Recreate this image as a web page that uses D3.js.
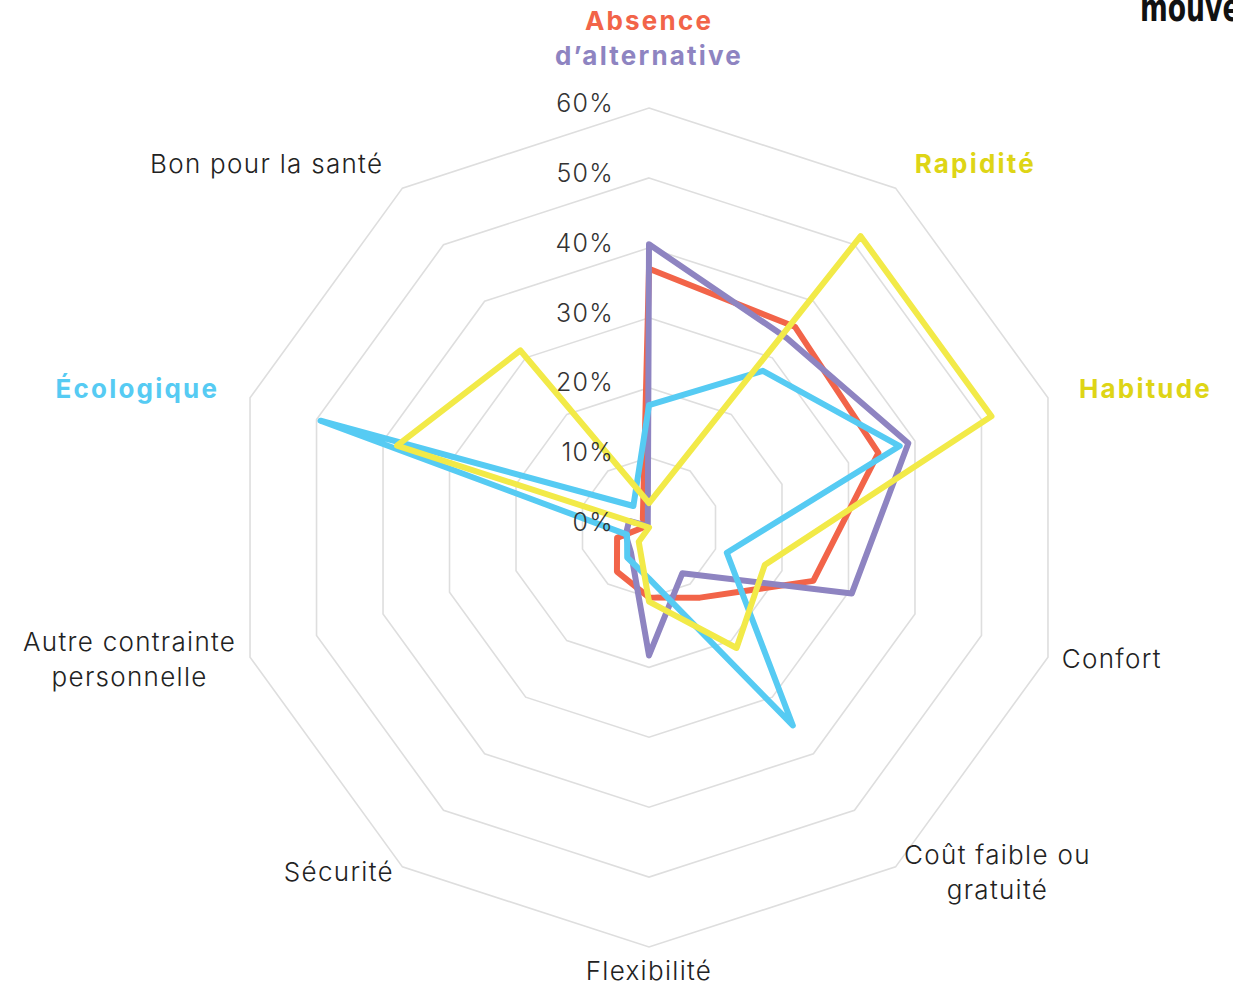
<!DOCTYPE html>
<html>
<head>
<meta charset="utf-8">
<script src="https://cdn.jsdelivr.net/npm/d3@7/dist/d3.min.js"></script>
<style>
  body { margin: 0; background: #fff; }
  svg { display: block; }
</style>
</head>
<body>
<script>
// radar: motifs de choix du mode de transport (%)

var axes = ["Absence d’alternative", "Rapidité", "Habitude", "Confort", "Coût faible ou gratuité",
            "Flexibilité", "Sécurité", "Autre contrainte personnelle", "Écologique", "Bon pour la santé"];

// lignes des libellés d'axes
var axisLines = [["Absence", "d’alternative"], ["Rapidité"], ["Habitude"], ["Confort"], ["Coût faible ou", "gratuité"],
                 ["Flexibilité"], ["Sécurité"], ["Autre contrainte", "personnelle"], ["Écologique"], ["Bon pour la santé"]];

var serieRouge  = [37, 35.5, 34.5, 24.7, 12.4, 10, 7.8, 4.8, 0.5, 1.5];
var serieViolet = [40.5, 33.5, 39, 30.5, 8.1, 18.3, 4.4, 3.5, 3, 0.3];
var serieBleu   = [17.5, 27.7, 37.7, 11.7, 35, 7.3, 5.3, 3.3, 49.4, 3.8];
var serieJaune  = [3.5, 51.5, 51.5, 17.4, 21.3, 10.6, 2.5, 0, 37.9, 31.3];

var ticks = [0, 10, 20, 30, 40, 50, 60];
var tickLabels = ["0%", "10%", "20%", "30%", "40%", "50%", "60%"];

var rouge = "#f26449", violet = "#8e84c1", bleu = "#56cbf3", jaune = "#f2ea48";
var jauneTexte = "#ded516";

var series = [
    { values: serieRouge, color: rouge },
    { values: serieViolet, color: violet },
    { values: serieBleu, color: bleu },
    { values: serieJaune, color: jaune }
];

var width = 1233, height = 987;
var cx = 649, cy = 527.5;

var svg = d3.select("body").append("svg")
    .attr("width", width)
    .attr("height", height);

var g = svg.append("g")
    .attr("transform", "translate(" + cx + "," + cy + ")");

var rScale = d3.scaleLinear()
    .domain([0, 60])
    .range([0, 419.5]);

var angle = d3.scaleLinear()
    .domain([0, axes.length])
    .range([0, 2 * Math.PI]);

// grille en décagones
var ring = d3.lineRadial()
    .angle(function (d, i) { return angle(i); })
    .radius(function (d) { return rScale(d); })
    .curve(d3.curveLinearClosed);

g.selectAll(".ring")
    .data(ticks.slice(1))
    .enter().append("path")
    .attr("class", "ring")
    .attr("d", function (t) { return ring(axes.map(function () { return t; })); })
    .attr("fill", "none")
    .attr("stroke", "#dedede")
    .attr("stroke-width", 1.6);

// courbes
var line = d3.lineRadial()
    .angle(function (d, i) { return angle(i); })
    .radius(function (d) { return rScale(d); })
    .curve(d3.curveLinearClosed);

g.selectAll(".serie")
    .data(series)
    .enter().append("path")
    .attr("class", "serie")
    .attr("d", function (s) { return line(s.values); })
    .attr("fill", "none")
    .attr("stroke", function (s) { return s.color; })
    .attr("stroke-width", 6)
    .attr("stroke-linejoin", "round")
    .attr("stroke-linecap", "round");

// graduations
g.selectAll(".tick")
    .data(ticks)
    .enter().append("text")
    .attr("class", "tick")
    .attr("x", -35)
    .attr("y", function (t) { return -rScale(t) - 5; })
    .attr("dy", "0.35em")
    .attr("text-anchor", "end")
    .attr("font-family", "Inter, sans-serif")
    .attr("font-weight", 300)
    .attr("font-size", "25px")
    .attr("letter-spacing", "1.3px")
    .attr("fill", "#333")
    .text(function (t, i) { return tickLabels[i]; });

// libellés des axes
var labelColors = [null, jauneTexte, jauneTexte, null, null, null, null, null, bleu, null];
var lineColors = { 0: [rouge, violet] };
var boldAxes = [0, 1, 2, 8];

axisLines.forEach(function (lines, i) {
    var a = angle(i);
    var sin = Math.sin(a), cos = Math.cos(a);
    var rx = cos >= 0 ? 452 : 434;
    var ry = cos >= 0 ? 450 : 426;
    var x = rx * sin;
    var y = -ry * cos;
    var bold = boldAxes.indexOf(i) >= 0;
    var lh = 35;

    var grp = g.append("g");
    var texts = lines.map(function (l, k) {
        return grp.append("text")
            .attr("font-family", "Inter, sans-serif")
            .attr("font-weight", bold ? 700 : 300)
            .attr("font-size", "26px")
            .attr("letter-spacing", bold ? "2.2px" : "1.3px")
            .attr("fill", lineColors[i] ? lineColors[i][k] : (labelColors[i] || "#222"))
            .attr("text-anchor", "middle")
            .attr("dy", "0.35em")
            .text(l);
    });
    var maxW = d3.max(texts, function (t) { return t.node().getComputedTextLength(); });

    var left;
    if (Math.abs(sin) < 0.1) left = x - maxW / 2;
    else if (sin > 0) left = x;
    else left = x - maxW;

    var n = lines.length;
    var top;
    if (i === 0) top = y - 57;
    else if (cos < -0.99) top = y + 17;
    else top = y - (n - 1) * lh / 2;

    texts.forEach(function (t, k) {
        t.attr("x", left + maxW / 2).attr("y", top + k * lh);
    });
});

// logo coupé en haut à droite
svg.append("text")
    .attr("transform", "translate(1140,21) scale(0.78,1)")
    .attr("font-family", "'Liberation Sans Narrow', 'DejaVu Sans Condensed', sans-serif")
    .attr("font-weight", 700)
    .attr("font-size", "38px")
    .attr("fill", "#111")
    .text("mouve");
</script>
</body>
</html>
